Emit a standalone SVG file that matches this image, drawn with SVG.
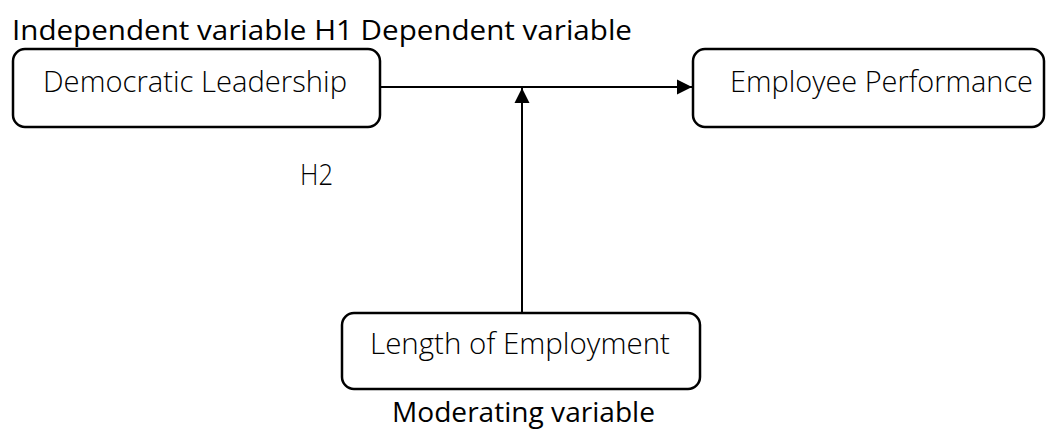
<svg xmlns="http://www.w3.org/2000/svg" width="1058" height="435" viewBox="0 0 1058 435">
<style>
.box{fill:#fff;stroke:#000;stroke-width:2.5}
.t{font-family:"Open Sans","Noto Sans",sans-serif;font-weight:300;font-size:29px;fill:#000}
.h{font-family:"Open Sans","Noto Sans",sans-serif;font-weight:400;font-size:27px;fill:#000}
.c{fill:none;stroke:#000;stroke-width:2}
</style>
<defs>
<marker id="arr" markerWidth="16" markerHeight="16" refX="15" refY="8" orient="auto" markerUnits="userSpaceOnUse">
<path d="M0,0.5 L15,8 L0,15.5 Z" fill="#000"/>
</marker>
</defs>
<rect width="1058" height="435" fill="#fff"/>
<text class="h" x="12" y="40" textLength="620" lengthAdjust="spacingAndGlyphs">Independent variable H1 Dependent variable</text>
<g id="connectors">
<line class="c" x1="381" y1="87" x2="692" y2="87" marker-end="url(#arr)"/>
<line class="c" x1="522" y1="313" x2="522" y2="88" marker-end="url(#arr)"/>
</g>
<g id="democratic-leadership">
<rect class="box" x="13" y="49" width="367" height="78" rx="12"/>
<text class="t" x="43" y="92" textLength="304" lengthAdjust="spacingAndGlyphs">Democratic Leadership</text>
</g>
<g id="employee-performance">
<rect class="box" x="693" y="49" width="351" height="78" rx="12"/>
<text class="t" x="730" y="92" textLength="303" lengthAdjust="spacingAndGlyphs">Employee Performance</text>
</g>
<g id="length-of-employment">
<rect class="box" x="342" y="313" width="358" height="76" rx="12"/>
<text class="t" x="370" y="354" textLength="300" lengthAdjust="spacingAndGlyphs">Length of Employment</text>
</g>
<text class="t" x="300" y="185" textLength="33" lengthAdjust="spacingAndGlyphs">H2</text>
<text class="h" x="392" y="422" textLength="263" lengthAdjust="spacingAndGlyphs">Moderating variable</text>
</svg>
